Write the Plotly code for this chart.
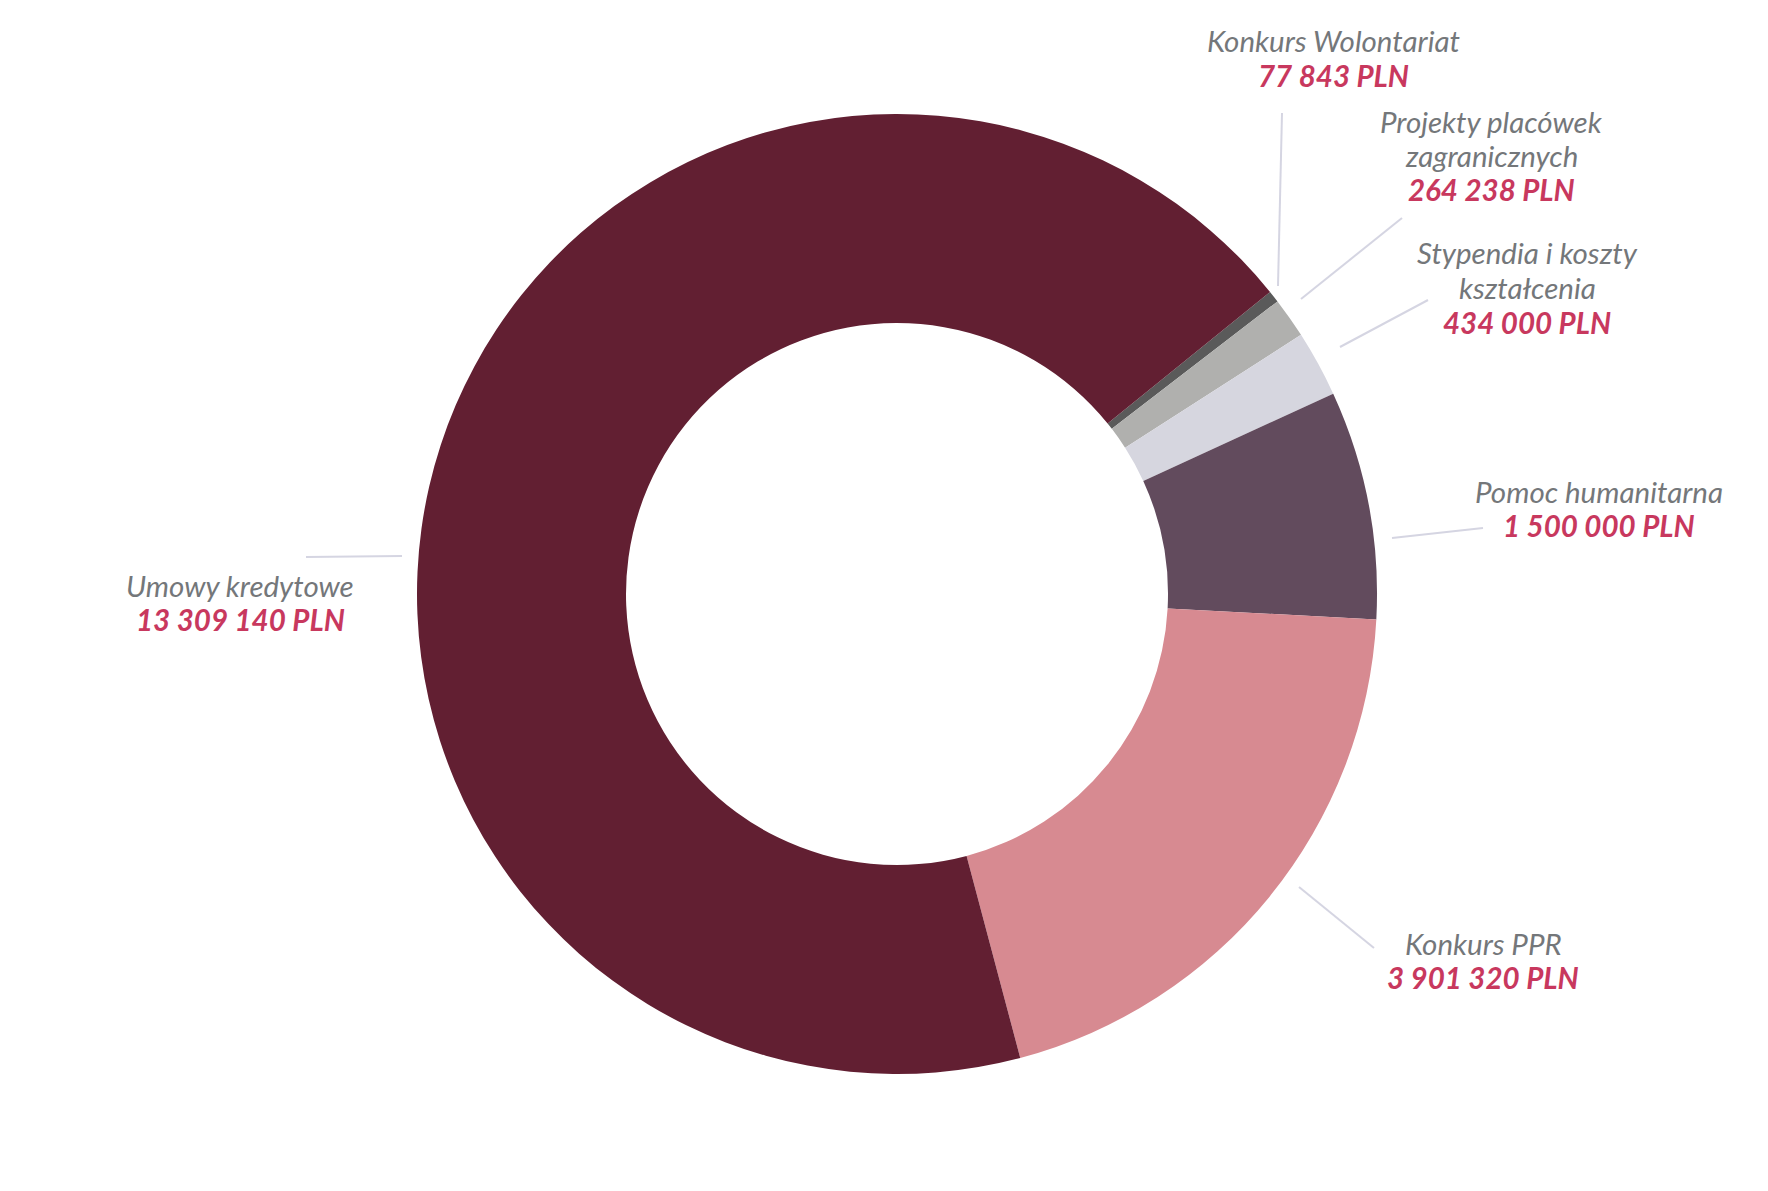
import plotly.graph_objects as go

# ---- data (clockwise from the upper-right) ----
categories = ["Konkurs Wolontariat", "Projekty placówek zagranicznych",
              "Stypendia i koszty kształcenia", "Pomoc humanitarna",
              "Konkurs PPR", "Umowy kredytowe"]
label_lines = [["Konkurs Wolontariat"], ["Projekty placówek", "zagranicznych"],
               ["Stypendia i koszty", "kształcenia"], ["Pomoc humanitarna"],
               ["Konkurs PPR"], ["Umowy kredytowe"]]
values = [77843, 264238, 434000, 1500000, 3901320, 13309140]
value_labels = ["77 843 PLN", "264 238 PLN", "434 000 PLN", "1 500 000 PLN",
                "3 901 320 PLN", "13 309 140 PLN"]

# ---- styles ----
colors = ["#5a5a5a", "#b0b0ae", "#d6d6df", "#624b5d", "#d78a91", "#621f32"]
W, H = 1768, 1191
OFF = 8  # page body margin
TEXT_GRAY = "#74777a"
VALUE_RED = "#c8385e"
LINE_COL = "#d5d5e2"
FONT = "Lato"
FSIZE = 29.5
LINE_H = 34.5

# label block: centre x and first-line centre y (px, page coords)
label_pos = [(1333, 43), (1491, 123), (1527, 255), (1599, 493), (1483, 945), (240, 587)]
leaders = [((1282, 113), (1278, 286)), ((1402, 218), (1301, 299)),
           ((1428, 300), (1340, 347)), ((1483, 528), (1392, 538)),
           ((1299, 887), (1374, 948)), ((306, 557), (402, 556))]

cx, cy, R, r_in = 897 - OFF, 594 - OFF, 480, 271

fig = go.Figure(go.Pie(
    labels=categories, values=values, sort=False, direction="clockwise",
    rotation=51, hole=r_in / R, textinfo="none",
    marker=dict(colors=colors, line=dict(width=0)),
    domain=dict(x=[(cx - R) / W, (cx + R) / W],
                y=[(H - cy - R) / H, (H - cy + R) / H]),
    showlegend=False,
))

def px(x):
    return (x - OFF) / W

def py(y):
    return 1 - (y - OFF - 2) / H

annotations = []
for lines, val, (x, y) in zip(label_lines, value_labels, label_pos):
    rows = [(f"<i>{l}</i>", TEXT_GRAY) for l in lines] + [(f"<b><i>{val}</i></b>", VALUE_RED)]
    for k, (txt, col) in enumerate(rows):
        annotations.append(dict(
            x=px(x), y=py(y + k * LINE_H), xref="paper", yref="paper", text=txt,
            showarrow=False, xanchor="center", yanchor="middle", align="center",
            font=dict(family=FONT, size=FSIZE, color=col)))

shapes = []
for (a, b) in leaders:
    shapes.append(dict(type="line", xref="paper", yref="paper",
                       x0=px(a[0]), y0=py(a[1] + 2), x1=px(b[0]), y1=py(b[1] + 2),
                       line=dict(color=LINE_COL, width=2)))

fig.update_layout(width=W, height=H, margin=dict(l=0, r=0, t=0, b=0),
                  paper_bgcolor="white", plot_bgcolor="white",
                  annotations=annotations, shapes=shapes)
fig.write_html("out.html")
